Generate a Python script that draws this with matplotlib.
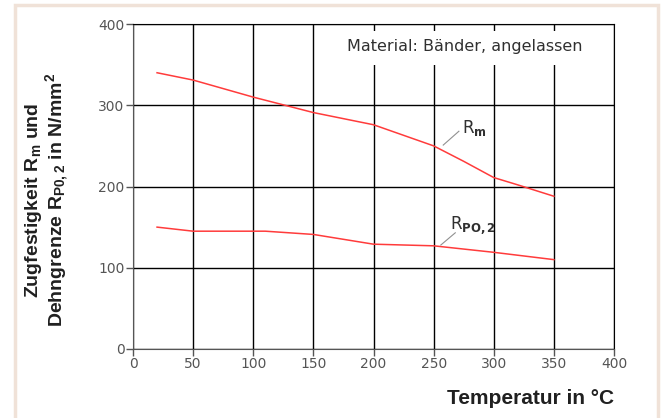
import matplotlib
matplotlib.use("Agg")
import matplotlib.pyplot as plt
from matplotlib.patches import Rectangle

plt.rcParams['font.family'] = ['DejaVu Sans']
plt.rcParams['mathtext.default'] = 'regular'

# Rm (Zugfestigkeit)
temp_rm = [20, 50, 100, 150, 200, 250, 275, 300, 320, 350]
rm = [340, 331, 310, 291, 276, 250, 231, 211, 202, 188]

# Rp0,2 (Dehngrenze)
temp_rp = [20, 50, 110, 150, 200, 250, 300, 350]
rp = [150, 145, 145, 141, 129, 127, 119, 110]

xticks = [0, 50, 100, 150, 200, 250, 300, 350, 400]
yticks = [0, 100, 200, 300, 400]

red = "#ff3b3b"
gray = "#555555"

fig = plt.figure(figsize=(6.62, 4.18), dpi=100)
fig.patches.append(Rectangle((15 / 662, -0.05), 643 / 662, 1 - 5 / 418 + 0.05,
                             transform=fig.transFigure, fill=False,
                             edgecolor="#f0e2d8", linewidth=2.5))

ax = fig.add_axes([133 / 662, 1 - 349 / 418, 481 / 662, 325 / 418])
ax.set_xlim(0, 400)
ax.set_ylim(0, 400)
ax.set_xticks(xticks)
ax.set_yticks(yticks)
ax.grid(True, color="black", linewidth=1)
ax.set_axisbelow(True)
ax.tick_params(colors=gray, labelsize=10, length=5, width=1, pad=1)
for s in ["left", "bottom"]:
    ax.spines[s].set_color(gray)
for s in ["top", "right"]:
    ax.spines[s].set_color("black")

# white box behind the material note (cuts the gridlines)
ax.add_patch(Rectangle((168, 350), 224, 42, facecolor="white", edgecolor="none", zorder=1.5))
ax.text(276, 372, "Material: Bänder, angelassen", ha="center", va="center",
        fontsize=11.5, color="#303030", zorder=3)

ax.plot(temp_rm, rm, color=red, linewidth=1.1, zorder=3)
ax.plot(temp_rp, rp, color=red, linewidth=1.1, zorder=3)

# leader lines and labels
ax.plot([258, 271], [251, 268], color="#909090", linewidth=0.8, zorder=3)
ax.text(274, 272, r"R$_{\mathbf{m}}$", fontsize=12, color="#303030",
        va="center", ha="left", zorder=3)
ax.plot([256, 268], [128, 143], color="#909090", linewidth=0.8, zorder=3)
ax.text(264, 153, r"R$_{\mathbf{PO,2}}$", fontsize=12, color="#303030",
        va="center", ha="left", zorder=3)

fig.text(614 / 662, 1 - 399 / 418, "Temperatur in °C", ha="right", va="center",
         fontsize=15, fontweight="bold", color="#202020",
         family=["Liberation Sans", "DejaVu Sans"])
fig.text(47 / 662, 1 - 200 / 418,
         "Zugfestigkeit R$_{m}$ und\nDehngrenze R$_{P0,2}$ in N/mm$^{2}$",
         rotation=90, ha="center", va="center", fontsize=14, fontweight="bold",
         color="#202020", linespacing=1.0,
         family=["Liberation Sans", "DejaVu Sans"])

fig.savefig("out.png", dpi=100)
